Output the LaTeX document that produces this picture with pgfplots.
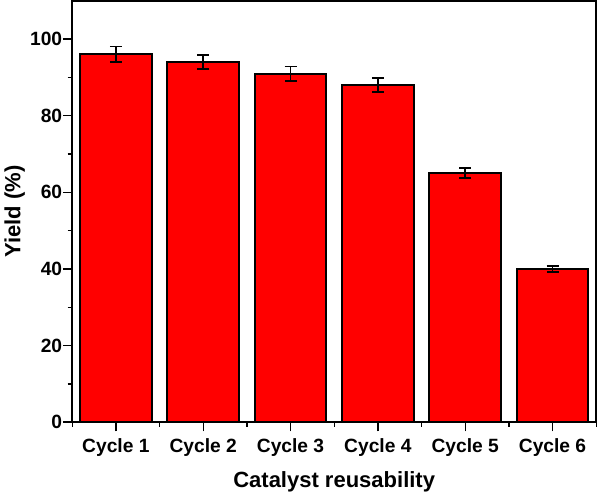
\documentclass[border=0pt]{standalone}
\usepackage{fontspec}
\setmainfont{Liberation Sans}
\usepackage{pgfplots}
\pgfplotsset{compat=1.18}

\definecolor{barred}{HTML}{FF0000}

\begin{document}
\begin{tikzpicture}
\begin{axis}[
    scale only axis,
    width=393pt,
    height=316pt,
    xmin=0.5, xmax=6.5,
    ymin=0, ymax=110,
    xtick={1,2,3,4,5,6},
    xticklabels={Cycle 1, Cycle 2, Cycle 3, Cycle 4, Cycle 5, Cycle 6},
    minor xtick={0.5,1.5,2.5,3.5,4.5,5.5,6.5},
    ytick={0,20,40,60,80,100},
    minor ytick={10,30,50,70,90},
    tick pos=left,
    tick align=outside,
    major tick length=7pt,
    minor tick length=3.5pt,
    every tick/.style={black, line width=1pt},
    axis line style={line width=1.2pt},
    /pgf/number format/assume math mode=true,
    ticklabel style={font=\fontsize{14.4}{16}\selectfont\bfseries},
    xticklabel style={yshift=-2pt},
    yticklabel style={xshift=3pt},
    xlabel={Catalyst reusability},
    ylabel={Yield (\%)},
    label style={font=\fontsize{16.5}{19}\selectfont\bfseries},
    xlabel style={yshift=-4pt},
    ylabel style={yshift=-3pt},
]
\addplot[
    ybar,
    bar width=0.82,
    fill=barred,
    draw=black,
    line width=1.5pt,
    error bars/.cd,
    y dir=both,
    y explicit,
    error bar style={line width=1.1pt, black},
    error mark options={rotate=90, mark size=4.5pt, line width=1.1pt, black},
] coordinates {
    (1,96) +- (0,2.0)
    (2,94) +- (0,1.8)
    (3,91) +- (0,1.9)
    (4,88) +- (0,1.8)
    (5,65) +- (0,1.3)
    (6,40) +- (0,0.8)
};
\end{axis}
\end{tikzpicture}
\end{document}
